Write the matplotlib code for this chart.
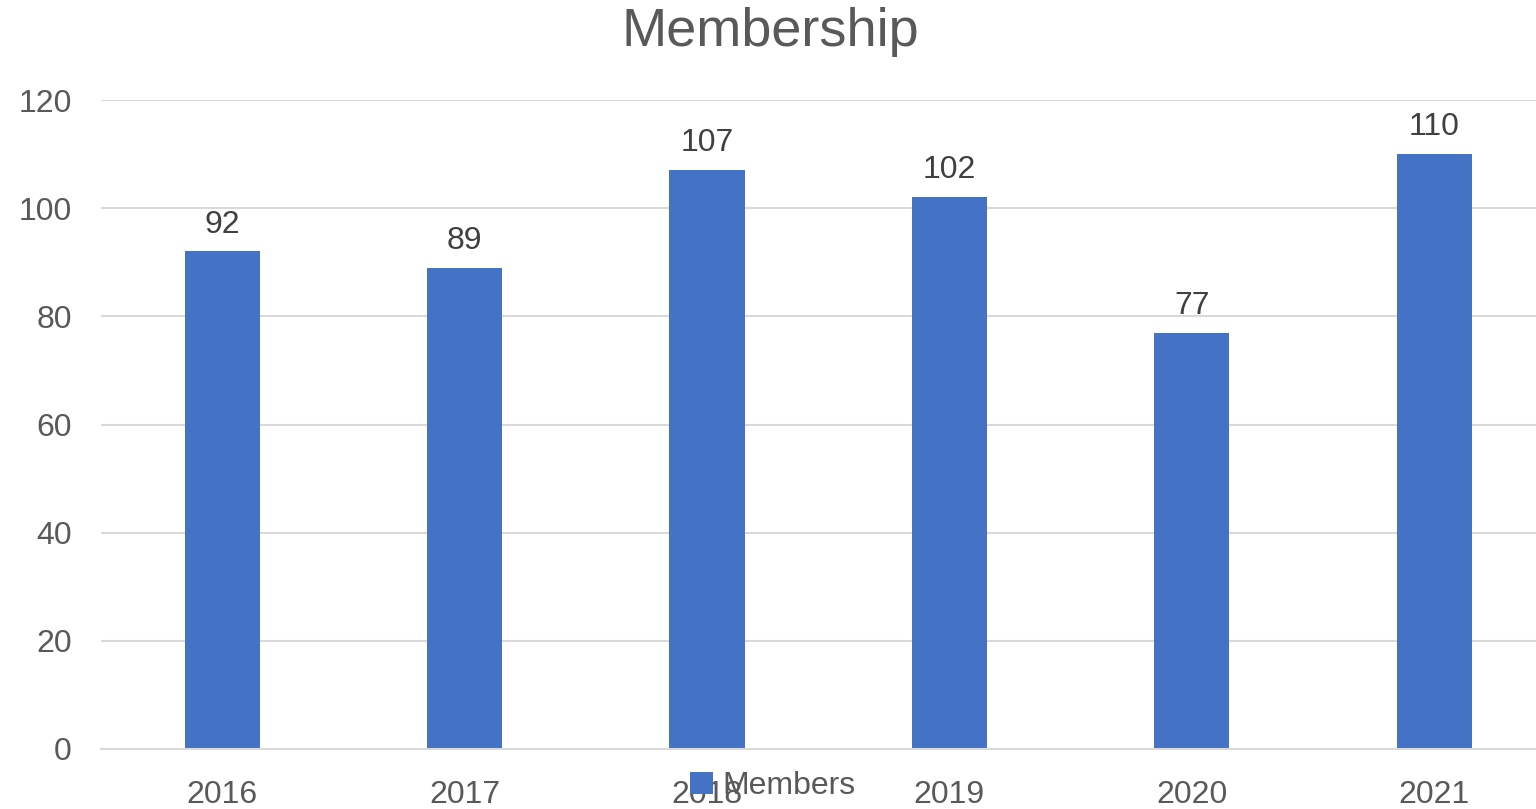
import matplotlib
matplotlib.use('Agg')
import matplotlib.pyplot as plt

# 数据
years = ['2016', '2017', '2018', '2019', '2020', '2021']
members = [92, 89, 107, 102, 77, 110]

plt.rcParams['font.family'] = ['Liberation Sans', 'DejaVu Sans']

fig = plt.figure(figsize=(15.36, 8.09), dpi=100)
# 坐标区: 左边 101px, 每类 242.4px, 右侧超出画布
ax = fig.add_axes([101 / 1536, 60 / 809, 6 * 242.4 / 1536, 649 / 809])

x = range(len(years))
bars = ax.bar(x, members, width=0.31, color='#4472C4', label='Members', zorder=3)

for xi, v in zip(x, members):
    ax.text(xi, v + 2.2, str(v), ha='center', va='bottom', fontsize=23, color='#404040')

ax.set_xlim(-0.5, 5.5)
ax.set_ylim(0, 120)
ax.set_yticks(range(0, 121, 20))
ax.set_xticks(list(x))
ax.set_xticklabels(years)
ax.tick_params(axis='both', length=0, labelsize=23, colors='#595959')
ax.tick_params(axis='x', pad=22)
ax.tick_params(axis='y', pad=21)

ax.grid(axis='y', color='#d9d9d9', linewidth=1.5, zorder=0)
for s in ['top', 'right', 'left']:
    ax.spines[s].set_visible(False)
ax.spines['bottom'].set_color('#d9d9d9')
ax.spines['bottom'].set_linewidth(1.5)
ax.spines['bottom'].set_zorder(4)

fig.text(770 / 1536, 1 - 32 / 809, 'Membership', ha='center', va='center',
         fontsize=39, color='#595959')

ax.legend(loc='center', bbox_to_anchor=(773 / 1536, 1 - 786 / 809),
          bbox_transform=fig.transFigure, frameon=False, fontsize=23,
          handlelength=0.7, handleheight=0.7, handletextpad=0.3,
          labelcolor='#595959')

fig.savefig('out.png', dpi=100)
